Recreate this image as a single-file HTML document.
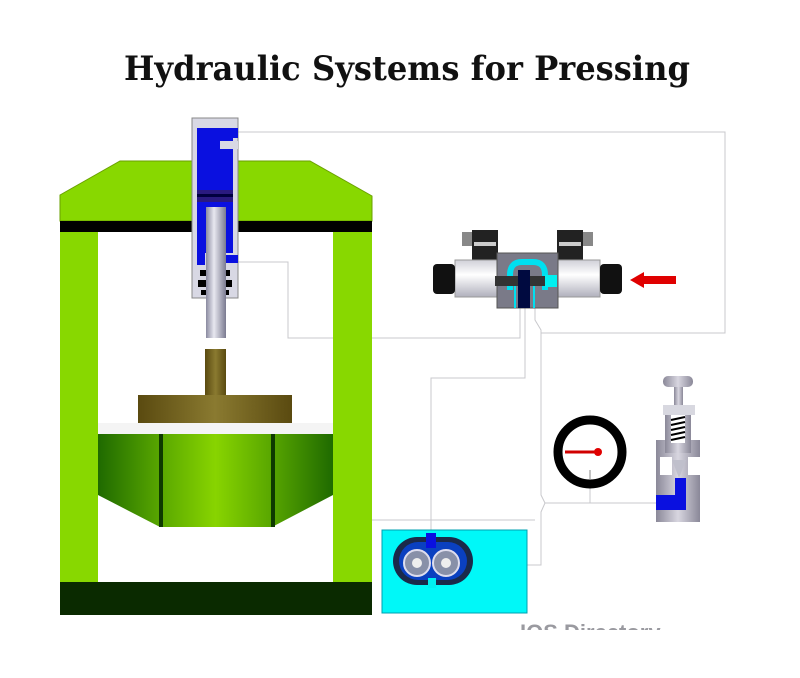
<!DOCTYPE html>
<html><head><meta charset="utf-8"><style>
html,body{margin:0;padding:0;background:#fff;}
svg{display:block;}
</style></head><body>
<svg width="800" height="678" viewBox="0 0 800 678" xmlns="http://www.w3.org/2000/svg">
<defs>
<linearGradient id="rod" x1="0" x2="1"><stop offset="0" stop-color="#8a8aa0"/><stop offset="0.4" stop-color="#e8e8f0"/><stop offset="1" stop-color="#7a7a90"/></linearGradient>
<linearGradient id="brass" x1="0" x2="1"><stop offset="0" stop-color="#5a4a10"/><stop offset="0.5" stop-color="#8a7a30"/><stop offset="1" stop-color="#5a4a10"/></linearGradient>
<linearGradient id="bowl" x1="0" x2="1"><stop offset="0" stop-color="#1f6a00"/><stop offset="0.27" stop-color="#5aa800"/><stop offset="0.5" stop-color="#88d400"/><stop offset="0.73" stop-color="#5aa800"/><stop offset="1" stop-color="#1f6a00"/></linearGradient>
<linearGradient id="metal" x1="0" x2="1"><stop offset="0" stop-color="#8a8898"/><stop offset="0.5" stop-color="#d8d6e0"/><stop offset="1" stop-color="#8a8898"/></linearGradient>
<linearGradient id="sol" x1="0" x2="0" y1="0" y2="1"><stop offset="0" stop-color="#d0d0d8"/><stop offset="0.4" stop-color="#ffffff"/><stop offset="1" stop-color="#b0b0bc"/></linearGradient>
</defs>
<text x="124" y="80" textLength="566" lengthAdjust="spacingAndGlyphs" font-family="'DejaVu Serif','Liberation Serif',serif" font-weight="bold" font-size="34" fill="#111">Hydraulic Systems for Pressing</text>

<g fill="none" stroke="#c8c8cc" stroke-width="1">
<polyline points="238,132 725,132 725,333 541,333"/>
<polyline points="238,262 288,262 288,338 520,338 520,305"/>
<polyline points="525,305 525,378 431,378 431,533"/>
<polyline points="535,305 535,320 541,330 541,495 545,503 541,512 541,565 527,565"/>
<polyline points="545,503 657,503"/>
<polyline points="372,520 535,520"/>
<line x1="590" y1="488" x2="590" y2="503"/>
</g>

<polygon points="60,195 120,161 310,161 372,196 372,221 60,221" fill="#88d800" stroke="#6aa000" stroke-width="1"/>
<rect x="60" y="221" width="312" height="11" fill="#000"/>
<rect x="60" y="232" width="38" height="351" fill="#88d800"/>
<rect x="333" y="232" width="39" height="351" fill="#88d800"/>
<rect x="60" y="582" width="312" height="33" fill="#0a2a00"/>
<rect x="205" y="349" width="21" height="46" fill="url(#brass)"/>
<rect x="138" y="395" width="154" height="28" fill="url(#brass)"/>
<rect x="98" y="423" width="235" height="11" fill="#f4f4f4"/>
<polygon points="98,434 333,434 333,495 272,527 160,527 98,495" fill="url(#bowl)"/>
<rect x="159" y="434" width="4" height="93" fill="#0e3a00"/>
<rect x="271" y="434" width="4" height="93" fill="#0e3a00"/>

<rect x="192" y="118" width="46" height="180" fill="#d8d8e4" stroke="#888" stroke-width="1"/>
<rect x="197" y="128" width="36" height="125" fill="#0a10e0"/>
<rect x="218" y="128" width="20" height="10" fill="#0a10e0"/>
<rect x="220" y="141" width="18" height="8" fill="#d8d8e4"/>
<rect x="197" y="190" width="36" height="12" fill="#2a1a80"/>
<rect x="197" y="194" width="36" height="3" fill="#000040"/>
<rect x="226" y="255" width="12" height="8" fill="#0a10e0"/>
<rect x="197" y="253" width="8" height="12" fill="#0a10e0"/>
<rect x="200" y="270" width="30" height="6" fill="#000"/>
<rect x="198" y="280" width="34" height="7" fill="#000"/>
<rect x="201" y="290" width="28" height="5" fill="#000"/>
<rect x="206" y="207" width="20" height="131" fill="url(#rod)"/>

<rect x="462" y="232" width="10" height="14" fill="#888"/>
<rect x="472" y="230" width="26" height="30" fill="#222"/>
<rect x="474" y="242" width="22" height="4" fill="#ccc"/>
<rect x="557" y="230" width="26" height="30" fill="#222"/>
<rect x="559" y="242" width="22" height="4" fill="#ccc"/>
<rect x="583" y="232" width="10" height="14" fill="#888"/>
<rect x="455" y="260" width="145" height="37" fill="url(#sol)" stroke="#999"/>
<rect x="433" y="264" width="22" height="30" rx="4" fill="#111"/>
<rect x="600" y="264" width="22" height="30" rx="4" fill="#111"/>
<rect x="497" y="253" width="61" height="55" fill="#7a7a88" stroke="#555"/>
<path d="M510,290 V275 Q510,262 522,262 H533 Q545,262 545,275 V290" fill="none" stroke="#00e0f0" stroke-width="6"/>
<rect x="495" y="276" width="60" height="10" fill="#333"/>
<rect x="545" y="275" width="12" height="12" fill="#00f0f0"/>
<rect x="518" y="270" width="12" height="38" fill="#000a40"/>
<line x1="515" y1="286" x2="515" y2="308" stroke="#00e0f0" stroke-width="2"/>
<line x1="534" y1="286" x2="534" y2="308" stroke="#00e0f0" stroke-width="2"/>
<polygon points="630,280 644,272 644,276 676,276 676,284 644,284 644,288" fill="#e00000"/>

<rect x="382" y="530" width="145" height="83" fill="#00f8f8" stroke="#00a0b0"/>
<rect x="393" y="537" width="80" height="48" rx="24" fill="#1a2a4a"/>
<rect x="399" y="542" width="68" height="38" rx="19" fill="#0a40c0"/>
<rect x="426" y="533" width="10" height="15" fill="#0a10e0"/>
<rect x="428" y="578" width="8" height="10" fill="#00f0f0"/>
<circle cx="417" cy="563" r="13" fill="#8890a8" stroke="#dde" stroke-width="2"/>
<circle cx="417" cy="563" r="5" fill="#eee"/>
<circle cx="446" cy="563" r="13" fill="#8890a8" stroke="#dde" stroke-width="2"/>
<circle cx="446" cy="563" r="5" fill="#eee"/>

<circle cx="590" cy="452" r="32" fill="#fff" stroke="#000" stroke-width="9"/>
<line x1="565" y1="452" x2="598" y2="452" stroke="#d00000" stroke-width="3"/>
<circle cx="598" cy="452" r="4" fill="#e00000"/>
<line x1="590" y1="470" x2="590" y2="480" stroke="#888"/>

<rect x="663" y="376" width="30" height="11" rx="5" fill="url(#metal)"/>
<rect x="674" y="387" width="9" height="18" fill="url(#metal)"/>
<rect x="663" y="405" width="32" height="10" fill="#d8d8e0"/>
<rect x="656" y="440" width="44" height="82" fill="url(#metal)"/>
<rect x="665" y="415" width="26" height="38" fill="url(#metal)"/>
<rect x="671" y="415" width="14" height="28" fill="#fff"/>
<g stroke="#000" stroke-width="2"><line x1="671" y1="420" x2="685" y2="417"/><line x1="671" y1="425" x2="685" y2="422"/><line x1="671" y1="430" x2="685" y2="427"/><line x1="671" y1="435" x2="685" y2="432"/><line x1="671" y1="440" x2="685" y2="437"/></g>
<rect x="660" y="457" width="12" height="18" fill="#fff"/>
<rect x="688" y="457" width="12" height="18" fill="#fff"/>
<polygon points="672,460 686,460 679,478" fill="#c0c0cc"/>
<path d="M656,495 H675 V478 H686 V510 H656 Z" fill="#0a10e0"/>

<text x="520" y="640" font-family="'Liberation Sans',sans-serif" font-weight="bold" font-size="22" fill="#9a9aa0">IQS Directory</text>
<rect x="0" y="630" width="800" height="48" fill="#fff"/>
</svg>
</body></html>
